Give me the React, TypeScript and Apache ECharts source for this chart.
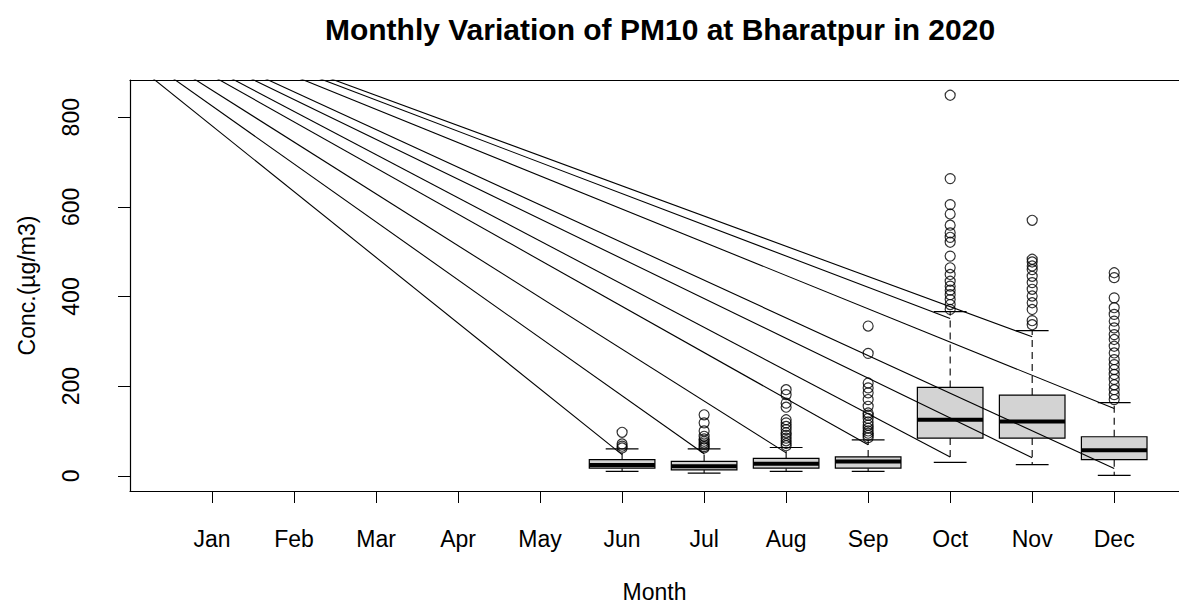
import React, { useEffect, useRef } from "react";
import * as echarts from "echarts";

// ---------- data ----------
const monthLabels = ["Jan", "Feb", "Mar", "Apr", "May", "Jun", "Jul", "Aug", "Sep", "Oct", "Nov", "Dec"];
const monthTicks = [1, 2, 3, 4, 5, 6, 7, 8, 9, 10, 11, 12];
const yTicks = [0, 200, 400, 600, 800];

// box statistics for months that have data (1-based month position)
const boxMonths = [6, 7, 8, 9, 10, 11, 12];
const lowerWhisker = [10, 6, 10, 10, 30, 25, 1];
const q1 = [17, 13, 17, 17, 84, 84, 36];
const medians = [24, 21, 27, 32, 125, 121, 57];
const q3 = [36, 32, 39, 42, 197, 180, 87];
const upperWhisker = [60, 60, 63, 80, 366, 324, 163];

// outliers per month
const outJun = [97, 71, 66, 62];
const outJul = [136, 118, 100, 88, 82, 77, 73, 69, 65, 62];
const outAug = [192, 181, 162, 153, 125, 118, 110, 103, 96, 90, 84, 78, 72, 67];
const outSep = [334, 273, 207, 196, 185, 170, 155, 140, 135, 128, 120, 113, 106, 100, 95, 90, 85];
const outOct = [849, 663, 605, 584, 559, 542, 532, 521, 490, 464, 449, 434, 423, 414, 404, 393, 382, 371];
const outNov = [570, 483, 477, 468, 460, 445, 431, 416, 401, 386, 371, 346, 337];
const outDec = [453, 442, 397, 375, 360, 345, 330, 315, 304, 289, 274, 259, 248, 237, 226, 215, 203, 192, 181, 170];
const outliers = [outJun, outJul, outAug, outSep, outOct, outNov, outDec];

// straight lines from a common off-plot point to points near the boxes
const lineStartMonth = -1.55;
const lineStartValue = 1155;
const lineEndMonths = [6, 7, 8, 9, 10, 11, 12, 12, 11, 10];
const lineEndValues = [47, 49, 51, 69, 42, 40, 16, 150, 310, 351];

const FONT = "Liberation Sans, Arial, Helvetica, sans-serif";

export default function App() {
  const ref = useRef<HTMLDivElement>(null);

  useEffect(() => {
    if (!ref.current) return;
    const chart = echarts.init(ref.current, null, { renderer: "svg" });

    const boxData = boxMonths.map((m, i) => [m, lowerWhisker[i], q1[i], medians[i], q3[i], upperWhisker[i]]);
    const outlierData: number[][] = [];
    boxMonths.forEach((m, i) => outliers[i].forEach((v) => outlierData.push([m, v])));

    const lineSeries = lineEndMonths.map((m, i) => ({
      type: "line",
      data: [
        [lineStartMonth, lineStartValue],
        [m, lineEndValues[i]],
      ],
      symbol: "none",
      clip: true,
      silent: true,
      z: 5,
      lineStyle: { color: "#000", width: 1.1 },
    }));

    chart.setOption({
      animation: false,
      backgroundColor: "#fff",
      title: {
        text: "Monthly Variation of PM10 at Bharatpur in 2020",
        left: 655,
        textAlign: "center",
        top: 9,
        textStyle: { fontFamily: FONT, fontSize: 30, fontWeight: "bold", color: "#000" },
      },
      grid: {
        left: 130,
        right: 0,
        top: 80,
        bottom: 117,
        show: false,
      },
      xAxis: [
        {
          type: "value",
          min: 0,
          max: 12.79,
          splitLine: { show: false },
          axisLine: { show: true, onZero: false, lineStyle: { color: "#000", width: 1.2 } },
          axisTick: { show: true, length: 12, lineStyle: { color: "#000" }, customValues: monthTicks },
          axisLabel: {
            customValues: monthTicks,
            formatter: (v: number) => monthLabels[Math.round(v) - 1] || "",
            fontFamily: FONT,
            fontSize: 23,
            color: "#000",
            margin: 36,
          },
          name: "Month",
          nameLocation: "middle",
          nameGap: 89,
          nameTextStyle: { fontFamily: FONT, fontSize: 23, color: "#000" },
        },
        {
          type: "value",
          position: "top",
          min: 0,
          max: 12.79,
          splitLine: { show: false },
          axisLine: { show: true, onZero: false, lineStyle: { color: "#000", width: 1.2 } },
          axisTick: { show: false },
          axisLabel: { show: false },
        },
      ],
      yAxis: {
        type: "value",
        min: -34,
        max: 883,
        splitLine: { show: false },
        axisLine: { show: true, onZero: false, lineStyle: { color: "#000", width: 1.2 } },
        axisTick: { show: true, length: 12, lineStyle: { color: "#000" }, customValues: yTicks },
        axisLabel: {
          customValues: yTicks,
          rotate: 90,
          fontFamily: FONT,
          fontSize: 23,
          color: "#000",
          margin: 48,
        },
        name: "Conc.(µg/m3)",
        nameLocation: "middle",
        nameRotate: 90,
        nameGap: 92,
        nameTextStyle: { fontFamily: FONT, fontSize: 23, color: "#000" },
      },
      series: [
        {
          type: "custom",
          data: boxData,
          z: 2,
          silent: true,
          renderItem: (params: any, api: any) => {
            const x = api.value(0);
            const pMin = api.coord([x, api.value(1)]);
            const pQ1 = api.coord([x, api.value(2)]);
            const pMed = api.coord([x, api.value(3)]);
            const pQ3 = api.coord([x, api.value(4)]);
            const pMax = api.coord([x, api.value(5)]);
            const bw = api.size([0.8, 0])[0];
            const cw = api.size([0.4, 0])[0];
            const cx = pMed[0];
            const black = "#000";
            return {
              type: "group",
              children: [
                {
                  type: "line",
                  shape: { x1: cx, y1: pQ3[1], x2: cx, y2: pMax[1] },
                  style: { stroke: black, lineWidth: 1.1, lineDash: [7, 5] },
                },
                {
                  type: "line",
                  shape: { x1: cx, y1: pQ1[1], x2: cx, y2: pMin[1] },
                  style: { stroke: black, lineWidth: 1.1, lineDash: [7, 5] },
                },
                {
                  type: "line",
                  shape: { x1: cx - cw / 2, y1: pMax[1], x2: cx + cw / 2, y2: pMax[1] },
                  style: { stroke: black, lineWidth: 1.2 },
                },
                {
                  type: "line",
                  shape: { x1: cx - cw / 2, y1: pMin[1], x2: cx + cw / 2, y2: pMin[1] },
                  style: { stroke: black, lineWidth: 1.2 },
                },
                {
                  type: "rect",
                  shape: { x: cx - bw / 2, y: pQ3[1], width: bw, height: pQ1[1] - pQ3[1] },
                  style: { fill: "#d3d3d3", stroke: black, lineWidth: 1.2 },
                },
                {
                  type: "line",
                  shape: { x1: cx - bw / 2, y1: pMed[1], x2: cx + bw / 2, y2: pMed[1] },
                  style: { stroke: black, lineWidth: 4 },
                },
              ],
            };
          },
        },
        {
          type: "scatter",
          data: outlierData,
          symbol: "circle",
          symbolSize: 10,
          z: 3,
          silent: true,
          itemStyle: { color: "rgba(0,0,0,0)", borderColor: "#000", borderWidth: 1.2 },
        },
        ...lineSeries,
      ],
    });

    return () => chart.dispose();
  }, []);

  return (
    <div
      ref={ref}
      style={{ position: "absolute", left: 0, top: 0, width: 1179, height: 608, background: "#fff" }}
    />
  );
}
